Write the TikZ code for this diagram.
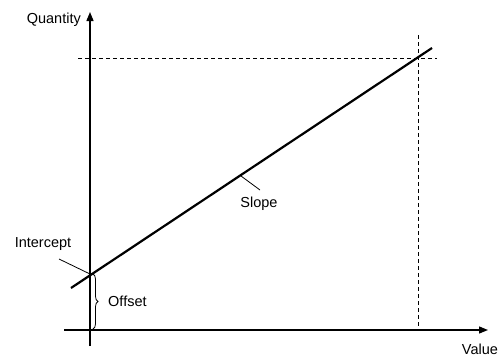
\documentclass[tikz,border=0pt]{standalone}
\usepackage{fontspec}
\setmainfont{Liberation Sans}
\usetikzlibrary{arrows.meta,decorations.pathreplacing}
\begin{document}
\begin{tikzpicture}[x=1pt,y=-1pt,
  axis/.style={line width=1.3pt,-{Triangle[length=9pt,width=7pt]}},
  guide/.style={line width=0.9pt,dash pattern=on 4pt off 3pt},
  leader/.style={line width=0.8pt},
  lbl/.style={font=\fontsize{14.5}{16}\selectfont,inner sep=0pt}]
\useasboundingbox (0,0) rectangle (501,356);
% axes
\coordinate (xs) at (64,330);
\coordinate (xe) at (488,330);
\coordinate (ys) at (90,346);
\coordinate (ye) at (90,12);
\draw[axis] (xs) -- (xe);
\draw[axis] (ys) -- (ye);
% main line
\coordinate (l0) at (71,288);
\coordinate (l1) at (432,48);
\draw[line width=2.2pt] (l0) -- (l1);
% dashed guides
\coordinate (h0) at (78,58);
\coordinate (h1) at (437,58);
\coordinate (v0) at (418,35);
\coordinate (v1) at (418,330);
\draw[guide] (h0) -- (h1);
\draw[guide] (v0) -- (v1);
% labels
\node[lbl,anchor=east] (q) at (81,20) {Quantity};
\node[lbl] (v) at (480,349) {Value};
\node[lbl] (s) at (259,204) {Slope};
\node[lbl] (i) at (43,244) {Intercept};
\node[lbl,anchor=west] (o) at (108,301) {Offset};
% leaders
\coordinate (sp) at (241,176);
\coordinate (sl) at (260,190);
\draw[leader] (sp) -- (sl);
\coordinate (ip) at (90,274);
\coordinate (il) at (59,259);
\draw[leader] (il) -- (ip);
% brace
\coordinate (b0) at (93,329);
\coordinate (b1) at (93,274);
\draw[leader,decorate,decoration={brace,amplitude=5pt}] (b1) -- (b0);
\end{tikzpicture}
\end{document}
